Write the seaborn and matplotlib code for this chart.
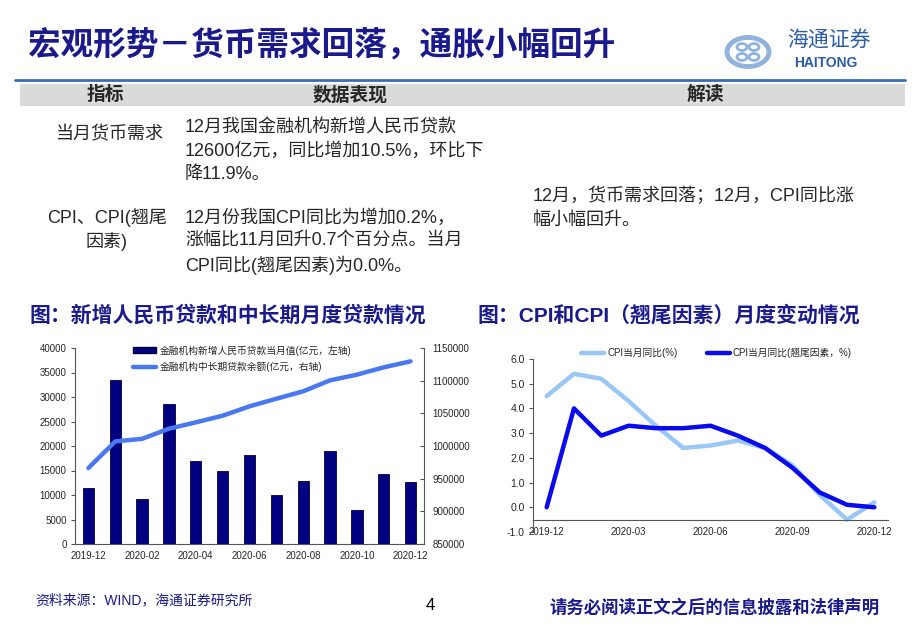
import numpy as np
import pandas as pd
import matplotlib
matplotlib.use('Agg')
import matplotlib.pyplot as plt
import seaborn as sns
from matplotlib.patches import Rectangle, Patch, Circle
from matplotlib.lines import Line2D

# ---------------- data ----------------
months = ['2019-12', '2020-01', '2020-02', '2020-03', '2020-04', '2020-05', '2020-06',
          '2020-07', '2020-08', '2020-09', '2020-10', '2020-11', '2020-12']
new_loans = [11400, 33500, 9100, 28500, 17000, 14800, 18100, 9900, 12800, 19000, 6900, 14300, 12600]
mlt_balance = [966300, 1007000, 1011000, 1026500, 1036200, 1046400, 1060700,
               1072400, 1083700, 1100500, 1109200, 1120400, 1129600]
cpi_yoy = [4.5, 5.4, 5.2, 4.3, 3.3, 2.4, 2.5, 2.7, 2.4, 1.7, 0.5, -0.5, 0.2]
cpi_carry = [0.0, 4.0, 2.9, 3.3, 3.2, 3.2, 3.3, 2.9, 2.4, 1.6, 0.6, 0.1, 0.0]

left_yticks = [0, 5000, 10000, 15000, 20000, 25000, 30000, 35000, 40000]
right_yticks = [850000, 900000, 950000, 1000000, 1050000, 1100000, 1150000]
cpi_yticks = [-1.0, 0.0, 1.0, 2.0, 3.0, 4.0, 5.0, 6.0]

title = '宏观形势－货币需求回落，通胀小幅回升'
headers = ['指标', '数据表现', '解读']
row1_label = ['当月货币需求']
row1_text = ['12月我国金融机构新增人民币贷款', '12600亿元，同比增加10.5%，环比下', '降11.9%。']
row2_label = ['CPI、CPI(翘尾', '因素)']
row2_text = ['12月份我国CPI同比为增加0.2%，', '涨幅比11月回升0.7个百分点。当月', 'CPI同比(翘尾因素)为0.0%。']
interp_text = ['12月，货币需求回落；12月，CPI同比涨', '幅小幅回升。']
chart1_title = '图：新增人民币贷款和中长期月度贷款情况'
chart2_title = '图：CPI和CPI（翘尾因素）月度变动情况'
leg1 = ['金融机构新增人民币贷款当月值(亿元，左轴)', '金融机构中长期贷款余额(亿元，右轴)']
leg2 = ['CPI当月同比(%)', 'CPI当月同比(翘尾因素，%)']
source = '资料来源：WIND，海通证券研究所'
disclaimer = '请务必阅读正文之后的信息披露和法律声明'

# ---------------- style ----------------
sns.set_theme(style='white')
plt.rcParams['font.family'] = ['Liberation Sans', 'Noto Sans CJK SC', 'DejaVu Sans']
plt.rcParams['axes.unicode_minus'] = False

W, H = 920, 636
fig = plt.figure(figsize=(W / 100, H / 100), dpi=100)

def fx(x):
    return x / W

def fy(y):
    return 1 - y / H

def T(x, y, s, **kw):
    fig.text(fx(x), fy(y), s, **kw)

NAVY_TXT = '#1a1a8c'

# ---------------- header ----------------
T(28, 45, title, fontsize=23.5, fontweight='bold', color=NAVY_TXT, va='center', ha='left')

# logo
LOGO = '#8fb3dd'
fig.patches.append(Circle((fx(748), fy(52)), 21 / W, transform=fig.transFigure,
                          facecolor='none', edgecolor=LOGO, lw=3.5))
for dx, dy in [(-6, -5), (6, -5), (-6, 5), (6, 5)]:
    fig.patches.append(Circle((fx(748 + dx), fy(52 + dy)), 5 / W, transform=fig.transFigure,
                              facecolor='none', edgecolor=LOGO, lw=2))
T(829, 41, '海通证券', fontsize=15, fontstyle='italic', color='#2a5caa', va='center', ha='center')
T(826, 63, 'HAITONG', fontsize=10, fontweight='bold', color='#2a5caa', va='center', ha='center')

fig.add_artist(Line2D([fx(15), fx(905)], [fy(80), fy(80)], color='#3a6db5', lw=2,
                      transform=fig.transFigure))
fig.patches.append(Rectangle((fx(20), fy(106)), fx(905) - fx(20), fy(84) - fy(106),
                             transform=fig.transFigure, facecolor='#dadada', edgecolor='none'))

T(105, 95, headers[0], fontsize=13.5, fontweight='bold', ha='center', va='center')
T(350, 95, headers[1], fontsize=13.5, fontweight='bold', ha='center', va='center')
T(705, 95, headers[2], fontsize=13.5, fontweight='bold', ha='center', va='center')

TS = 13
T(110, 135, row1_label[0], fontsize=TS, ha='center', va='center')
for i, s in enumerate(row1_text):
    T(185, 128 + i * 23.5, s, fontsize=TS, ha='left', va='center')
for i, s in enumerate(row2_label):
    T(107, 218 + i * 24, s, fontsize=TS, ha='center', va='center')
for i, s in enumerate(row2_text):
    T(185, 218 + i * 23.5, s, fontsize=TS, ha='left', va='center')
for i, s in enumerate(interp_text):
    T(533, 196 + i * 24, s, fontsize=TS, ha='left', va='center')

T(30, 315, chart1_title, fontsize=15, fontweight='bold', color=NAVY_TXT, ha='left', va='center')
T(478, 315, chart2_title, fontsize=15, fontweight='bold', color=NAVY_TXT, ha='left', va='center')

T(35, 600, source, fontsize=10, color=NAVY_TXT, ha='left', va='center')
T(430, 605, '4', fontsize=12, color='black', ha='center', va='center')
T(880, 607, disclaimer, fontsize=12.5, fontweight='bold', color=NAVY_TXT, ha='right', va='center')

# ---------------- left chart ----------------
SP = '#555555'
ax1 = fig.add_axes([fx(75), fy(544), fx(424) - fx(75), fy(348) - fy(544)])
idx = np.arange(len(months))
df1 = pd.DataFrame({'month': months, 'loans': new_loans, 'balance': mlt_balance, 'i': idx})
sns.barplot(data=df1, x='month', y='loans', ax=ax1, color='#000080', saturation=1,
            width=0.42, edgecolor='#00003a', linewidth=0.6)
ax1.set_xlim(-0.5, len(months) - 0.5)
ax1.set_ylim(0, 40000)
ax1.set_yticks(left_yticks)
ax1.set_yticklabels([str(v) for v in left_yticks])
ax1.set_xticks(idx[::2])
ax1.set_xticklabels(months[::2])
ax1.set_xticks(np.arange(1.5, len(months) - 1, 2), minor=True)
ax1.tick_params(axis='x', which='major', length=0, pad=5, labelsize=7)
ax1.tick_params(axis='x', which='minor', length=3, direction='in', color=SP, width=0.8)
ax1.tick_params(axis='y', length=3, direction='out', color=SP, width=0.8, pad=3, left=True,
                labelsize=7)
ax1.set_xlabel('')
ax1.set_ylabel('')
for s in ['top', 'right']:
    ax1.spines[s].set_visible(False)
for s in ['left', 'bottom']:
    ax1.spines[s].set_color(SP)
    ax1.spines[s].set_linewidth(0.8)

ax1b = ax1.twinx()
sns.lineplot(data=df1, x='i', y='balance', ax=ax1b, color='#4a78f0', lw=3.2)
ax1b.set_ylim(850000, 1150000)
ax1b.set_yticks(right_yticks)
ax1b.set_yticklabels([str(v) for v in right_yticks])
ax1b.set_xlim(-0.5, len(months) - 0.5)
ax1b.tick_params(axis='y', length=3, direction='in', color=SP, width=0.8, pad=6, right=True,
                 labelsize=7)
ax1b.set_ylabel('')
ax1b.set_xlabel('')
for s in ['top', 'left', 'bottom']:
    ax1b.spines[s].set_visible(False)
ax1b.spines['right'].set_color(SP)
ax1b.spines['right'].set_linewidth(0.8)

h1 = [Patch(facecolor='#000080', edgecolor='#00003a'),
      Line2D([], [], color='#4a78f0', lw=3.2)]
fig.legend(h1, leg1, loc='upper left', bbox_to_anchor=(fx(133), fy(345)), frameon=False,
           fontsize=7, handlelength=2.4, handleheight=0.5, handletextpad=0.4, labelspacing=0.6,
           borderaxespad=0, borderpad=0)

# ---------------- right chart ----------------
ax2 = fig.add_axes([fx(533), fy(532), fx(888) - fx(533), fy(359) - fy(532)])
df2 = pd.DataFrame({'i': idx, 'cpi': cpi_yoy, 'carry': cpi_carry})
sns.lineplot(data=df2, x='i', y='cpi', ax=ax2, color='#99c8f6', lw=3.2)
sns.lineplot(data=df2, x='i', y='carry', ax=ax2, color='#0a0aee', lw=3.2)
ax2.set_xlim(-0.5, len(months) - 0.5)
ax2.set_ylim(-1, 6)
ax2.set_yticks(cpi_yticks)
ax2.set_yticklabels([f'{v:.1f}' for v in cpi_yticks])
ax2.set_xticks(idx[::3])
ax2.set_xticklabels(months[::3])
ax2.set_xticks(np.arange(2.5, len(months) - 1, 3), minor=True)
ax2.tick_params(axis='x', which='major', length=0, pad=5, labelsize=7)
ax2.tick_params(axis='x', which='minor', length=3, direction='out', color=SP, width=0.8)
ax2.tick_params(axis='y', length=3, direction='out', color=SP, width=0.8, pad=3, left=True,
                labelsize=7.5)
ax2.set_xlabel('')
ax2.set_ylabel('')
ax2.spines['bottom'].set_position(('data', -0.5))
for s in ['top', 'right']:
    ax2.spines[s].set_visible(False)
for s in ['left', 'bottom']:
    ax2.spines[s].set_color(SP)
    ax2.spines[s].set_linewidth(0.8)

h2 = [Line2D([], [], color='#99c8f6', lw=3.2), Line2D([], [], color='#0a0aee', lw=3.2)]
fig.legend(h2, leg2, loc='upper left', bbox_to_anchor=(fx(581), fy(348)), frameon=False,
           fontsize=7, ncol=2, handlelength=2.4, handletextpad=0.3, columnspacing=3.0,
           borderaxespad=0, borderpad=0)

fig.savefig('out.png', dpi=100)
